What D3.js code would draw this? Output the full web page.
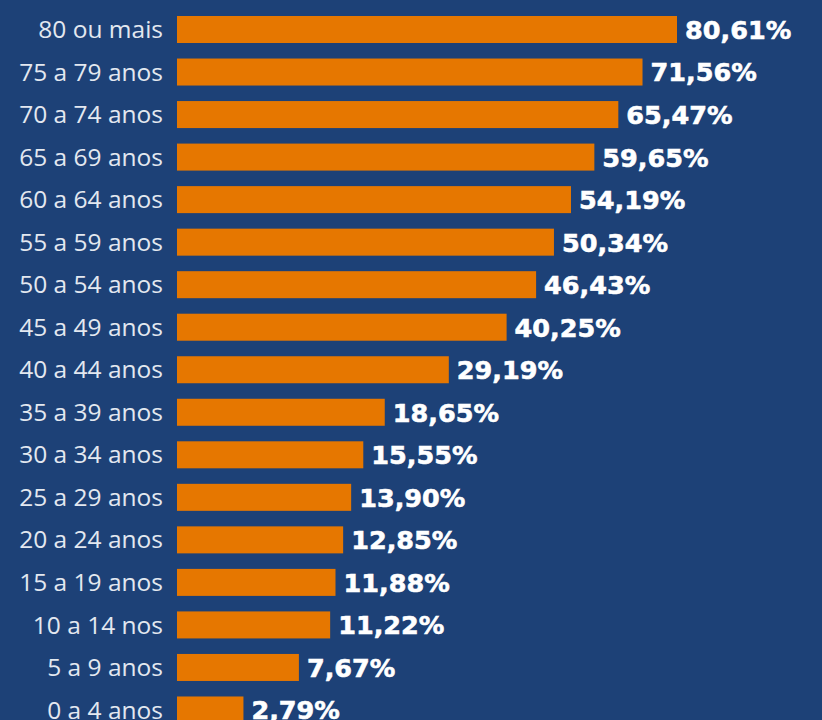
<!DOCTYPE html>
<html>
<head>
<meta charset="utf-8">
<script src="https://cdn.jsdelivr.net/npm/d3@7"></script>
<style>
  html, body { margin: 0; padding: 0; background: #1d4177; }
  svg { display: block; }
</style>
</head>
<body>
<div id="wrapper"></div>
<script>
const faixas = ["80 ou mais", "75 a 79 anos", "70 a 74 anos", "65 a 69 anos", "60 a 64 anos",
  "55 a 59 anos", "50 a 54 anos", "45 a 49 anos", "40 a 44 anos", "35 a 39 anos",
  "30 a 34 anos", "25 a 29 anos", "20 a 24 anos", "15 a 19 anos", "10 a 14 nos",
  "5 a 9 anos", "0 a 4 anos"]
const valores = [80.61, 71.56, 65.47, 59.65, 54.19, 50.34, 46.43, 40.25, 29.19, 18.65,
  15.55, 13.90, 12.85, 11.88, 11.22, 7.67, 2.79]

const dimensions = { width: 822, height: 720, left: 177 }

const wrapper = d3.select("#wrapper")
  .append("svg")
    .attr("width", dimensions.width)
    .attr("height", dimensions.height)

wrapper.append("rect")
  .attr("width", dimensions.width)
  .attr("height", dimensions.height)
  .attr("fill", "#1d4177")

const data = faixas.map((f, i) => ({ faixa: f, valor: valores[i] }))

const step = 42.53
const yScale = d3.scaleBand()
  .domain(faixas)
  .range([8.24, 8.24 + faixas.length * step])
  .paddingInner(0.365)
  .paddingOuter(0.1825)

// the original bars are not linear in the value, a power scale follows them best
const xScale = d3.scalePow()
  .exponent(0.6)
  .domain([0, 80.61])
  .range([0, 500])

const fmt = v => v.toFixed(2).replace(".", ",") + "%"

const rows = wrapper.append("g").selectAll("g")
  .data(data)
  .enter().append("g")

rows.append("rect")
  .attr("x", dimensions.left)
  .attr("y", d => yScale(d.faixa))
  .attr("width", d => xScale(d.valor))
  .attr("height", yScale.bandwidth())
  .attr("fill", "#e67700")

rows.append("text")
  .attr("x", 163)
  .attr("y", d => yScale(d.faixa) + yScale.bandwidth() / 2)
  .attr("dy", "0.35em")
  .attr("text-anchor", "end")
  .attr("fill", "#e3e8f0")
  .style("font-family", "'Open Sans', sans-serif")
  .style("font-size", "24.5px")
  .text(d => d.faixa)

rows.append("text")
  .attr("x", d => dimensions.left + xScale(d.valor) + 8)
  .attr("y", d => yScale(d.faixa) + yScale.bandwidth() / 2)
  .attr("dy", "0.37em")
  .attr("fill", "#ffffff")
  .attr("stroke", "#ffffff")
  .attr("stroke-width", 0.6)
  .style("font-family", "'DejaVu Sans', sans-serif")
  .style("font-weight", "bold")
  .style("font-size", "25.5px")
  .text(d => fmt(d.valor))
</script>
</body>
</html>
